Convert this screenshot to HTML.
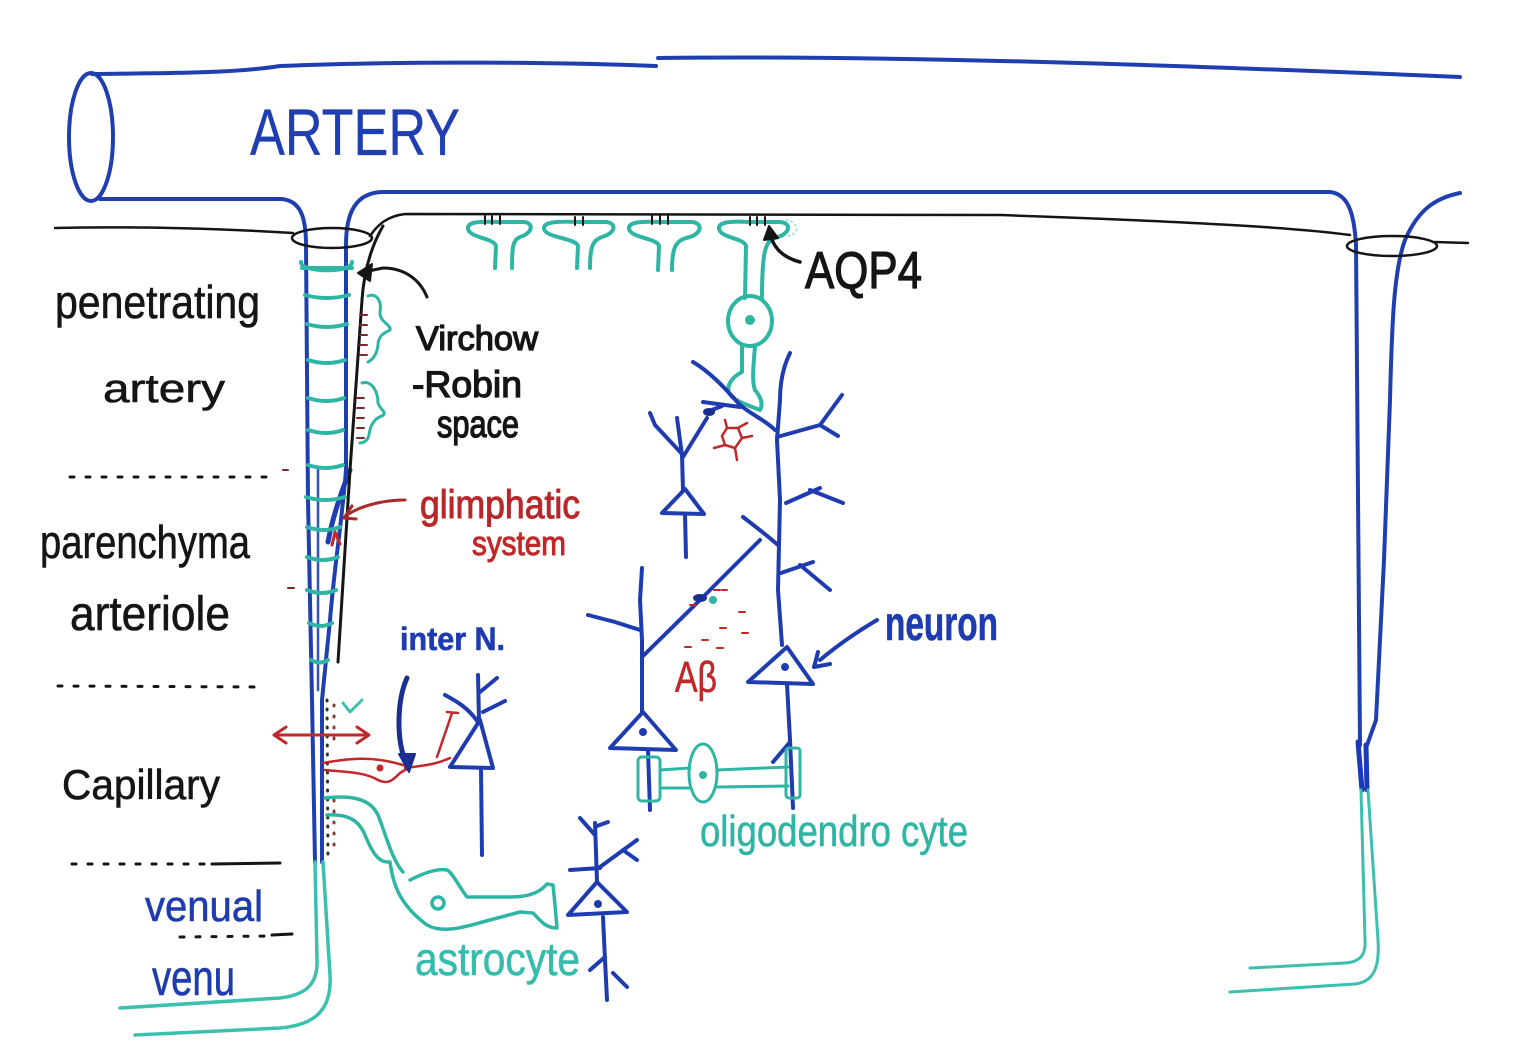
<!DOCTYPE html>
<html><head><meta charset="utf-8">
<style>
html,body{margin:0;padding:0;background:#fff}
svg{display:block}
text{font-family:"Liberation Sans",sans-serif}
</style></head>
<body>
<svg width="1538" height="1063" viewBox="0 0 1538 1063" xmlns="http://www.w3.org/2000/svg">
<rect width="1538" height="1063" fill="#fff"/>
<g fill="none" stroke-linecap="round" stroke-linejoin="round">

<!-- ARTERY tube -->
<g stroke="#1f3fb0" stroke-width="4">
<ellipse cx="91" cy="137" rx="22" ry="64"/>
<path d="M92,74 C150,73 230,74 280,66 C400,61 560,62 656,66"/>
<path d="M658,58 C900,55 1200,66 1460,77"/>
<path d="M100,199 L282,199 C300,201 306,216 306,245 L308,500 L312,700 L315,862"/>
<path d="M346,245 C346,212 356,193 382,192 L1330,192 C1347,194 1354,210 1356,245 L1360,745"/>
<path d="M1460,193 C1435,198 1418,210 1405,240 C1394,270 1392,320 1390,400 L1384,560 L1376,720 L1366,748"/>
<path d="M346,245 L346,470 C342,520 334,570 330,620 L322,700 L322,862"/>
<path d="M350,470 C342,490 333,515 328,542" stroke-width="5"/>
<path d="M318,470 L318,690" stroke="#2a55c8" stroke-width="2.5"/>
</g>
<path d="M1358,742 L1362,790 M1366,745 L1367,790" stroke="#1a3ab8" stroke-width="5"/>

<!-- right venule teal -->
<g stroke="#3cbfae" stroke-width="3">
<path d="M1361,790 L1365,940 C1366,955 1360,962 1345,963 L1250,968"/>
<path d="M1368,790 L1378,940 C1380,970 1372,982 1355,984 L1230,992"/>
</g>
<!-- left venule teal -->
<g stroke="#3cc0ae" stroke-width="3.5">
<path d="M315,862 L317,960 C318,985 305,995 280,998 L120,1008"/>
<path d="M323,862 L330,975 C332,1010 315,1025 280,1028 L135,1035"/>
</g>

<!-- pia (black) -->
<g stroke="#151515" stroke-width="2.5">
<path d="M55,228 C140,226 230,229 293,233"/>
<ellipse cx="332" cy="238" rx="40" ry="10"/>
<path d="M370,236 C378,224 388,216 405,214 L1000,215 C1200,222 1300,228 1350,235"/>
<ellipse cx="1392" cy="246" rx="45" ry="10"/>
<path d="M1435,242 L1468,243"/>
<path d="M383,226 C372,245 364,270 362,300 L350,470 L338,662" stroke-width="3"/>
</g>

<!-- teal rings on penetrating artery -->
<g stroke="#2fb5a3" stroke-width="4">
<path d="M301,262 C300,272 352,274 352,262"/>
<path d="M302,268 L352,268"/>
<path d="M305,295 Q327,301 349,295"/>
<path d="M307,324 Q327,330 347,324"/>
<path d="M308,360 Q327,366 345,360"/>
<path d="M308,398 Q327,404 344,398"/>
<path d="M308,430 Q327,436 343,430"/>
<path d="M308,465 Q326,471 343,465"/>
<path d="M306,497 Q325,503 345,497"/>
<path d="M307,527 Q324,533 340,527"/>
<path d="M307,557 Q323,563 338,557"/>
<path d="M307,590 Q322,596 336,590"/>
<path d="M309,623 Q321,629 332,623"/>
<path d="M311,660 Q320,665 328,660"/>
</g>

<!-- Virchow-Robin squiggles -->
<g stroke="#2fb5a3" stroke-width="3">
<path d="M368,296 C376,293 382,300 380,312 C379,322 392,325 390,330 C384,333 378,336 378,345 C377,355 372,360 368,362"/>
<path d="M362,383 C372,380 378,392 378,403 C380,410 388,412 382,416 C375,418 370,425 369,435 C368,440 364,443 360,443"/>
</g>
<g stroke="#7a2a2a" stroke-width="2">
<path d="M360,315 h7 M360,325 h7 M360,335 h7 M360,345 h7 M360,355 h7 M357,398 h7 M357,408 h7 M357,418 h7 M357,428 h7 M357,438 h7"/>
</g>

<!-- Virchow arrow -->
<path d="M427,297 C420,280 405,268 383,268 L364,272" stroke="#151515" stroke-width="3"/>
<path d="M372,264 L358,273 L370,281 Z" fill="#151515" stroke="#151515" stroke-width="2"/>

<!-- glimphatic arrow -->
<path d="M405,500 C385,500 362,505 347,515" stroke="#a82a2a" stroke-width="3"/>
<path d="M344,518 L352,506 M344,518 L356,519" stroke="#a82a2a" stroke-width="3"/>
<path d="M332,545 L335,532 L340,544" stroke="#c0282a" stroke-width="3"/>

<!-- capillary dots -->
<g stroke="#333" stroke-width="3" stroke-dasharray="1 8">
<path d="M327,700 L328,860"/>
</g>
<g stroke="#8a3a3a" stroke-width="3" stroke-dasharray="1 10">
<path d="M334,705 L334,745 M334,800 L334,855"/>
</g>
<path d="M343,703 L350,712 L362,700" stroke="#3cbfae" stroke-width="3"/>
<path d="M288,588 h6 M283,470 h5" stroke="#7a2a2a" stroke-width="2"/>

<!-- red double arrow -->
<path d="M275,735 L368,735 M286,727 L274,735 L286,743 M357,727 L369,735 L357,743" stroke="#c0282a" stroke-width="3"/>

<!-- interneuron (red) -->
<g stroke="#c0282a" stroke-width="2.5">
<path d="M323,763 C340,760 360,757 380,760 C395,762 402,765 410,767"/>
<path d="M325,770 C345,772 365,772 378,780 C388,785 393,780 400,773 C405,770 408,768 410,768"/>
<path d="M405,768 C420,766 435,765 450,758"/>
<path d="M437,757 L452,713 M447,712 L458,713"/>
</g>
<circle cx="380" cy="768" r="3.5" fill="#c0282a"/>
<circle cx="408" cy="767" r="3.5" fill="#c0282a"/>

<!-- inter N. arrow -->
<path d="M407,678 C397,700 396,740 406,762" stroke="#1a2f90" stroke-width="5"/>
<path d="M399,754 L415,754 L409,772 Z" fill="#1a2f90" stroke="#1a2f90" stroke-width="2"/>

<!-- inter neuron (blue) -->
<g stroke="#1e3cb0" stroke-width="4">
<path d="M480,720 L450,767 L493,768 Z"/>
<path d="M478,675 L479,720 M481,768 L482,855"/>
<path d="M480,692 L497,678 M483,712 L505,701 M445,695 C458,702 468,708 478,722"/>
</g>

<!-- upper astrocyte endfeet -->
<g stroke="#2fb5a3" stroke-width="4">
<path d="M495,268 L496,246 C494,238 470,238 468,229 C467,222 478,221 500,222 L524,222 C534,223 533,233 520,237 C513,240 512,246 512,268"/>
<path d="M577,268 L578,246 C576,238 546,238 544,229 C543,222 556,221 578,222 L606,222 C617,223 616,233 602,237 C593,240 590,246 590,268"/>
<path d="M658,270 L659,246 C657,238 631,238 629,229 C628,222 640,221 662,222 L692,222 C703,223 702,233 690,237 C676,240 672,246 672,270"/>
<path d="M745,298 L746,246 C744,238 721,238 719,229 C718,222 730,221 748,222 L780,222 C792,223 790,233 778,237 C766,240 762,246 762,298"/>
<ellipse cx="750" cy="321" rx="22" ry="25"/>
<path d="M742,346 L742,372 C734,376 726,384 729,393 C733,401 748,405 760,410 C764,403 760,396 755,390 C752,382 753,370 755,346"/>
</g>
<circle cx="750" cy="320" r="5" fill="#2fb5a3"/>
<path d="M786,220 C800,222 800,236 786,236" stroke="#9fdcd4" stroke-width="1.5" stroke-dasharray="2 3"/>
<g stroke="#151515" stroke-width="2">
<path d="M485,216 v8 M492,216 v8 M500,216 v8 M575,217 v8 M583,217 v8 M652,216 v8 M660,216 v8 M668,216 v8 M750,217 v8 M757,217 v8 M765,217 v8"/>
</g>

<!-- AQP4 arrow -->
<path d="M800,262 C785,258 775,250 771,237" stroke="#151515" stroke-width="3.5"/>
<path d="M764,240 L769,226 L778,238 Z" fill="#151515" stroke="#151515" stroke-width="2"/>

<!-- big neuron -->
<g stroke="#1e3cb0" stroke-width="4">
<path d="M790,353 C784,365 780,380 780,400 L777,440 L780,500 L778,590 L782,645"/>
<path d="M787,647 L748,682 L813,684 Z"/>
<path d="M787,684 L790,740 L793,808 M790,742 L773,762"/>
<path d="M777,437 L820,425 L842,395 M820,425 L838,436"/>
<path d="M786,503 L820,488 M810,490 L843,503"/>
<path d="M743,517 C760,530 770,538 778,545"/>
<path d="M642,657 L700,600 L760,540"/>
<path d="M781,573 L813,562 M800,565 L830,590"/>
<path d="M693,362 C710,372 725,388 740,405 C752,415 765,420 775,430"/>
<path d="M703,402 L740,407"/>
</g>
<circle cx="785" cy="667" r="4" fill="#1e3cb0"/>

<!-- left upper small neuron -->
<g stroke="#1e3cb0" stroke-width="4">
<path d="M677,418 L682,455 L683,490"/>
<path d="M685,489 L662,513 L704,514 Z"/>
<path d="M685,514 L686,557"/>
<path d="M650,413 L655,425 L683,455"/>
<path d="M683,457 L707,418 M712,410 L722,406"/>
</g>
<ellipse cx="709" cy="412" rx="6" ry="4" fill="#1a2f90"/>

<!-- red star -->
<g stroke="#c0282a" stroke-width="2.5">
<path d="M727,428 L738,428 L742,438 L735,448 L725,445 L722,436 Z"/>
<path d="M738,428 L747,423 M742,438 L752,436 M725,445 L714,448 M735,448 L737,460 M727,428 L725,420"/>
</g>

<!-- lower left neuron -->
<g stroke="#1e3cb0" stroke-width="4">
<path d="M642,568 L640,600 L642,640 L642,712"/>
<path d="M588,615 L615,622 L640,630"/>
<path d="M643,712 L610,748 L676,750 Z"/>
<path d="M648,750 L650,810"/>
</g>
<circle cx="643" cy="732" r="4" fill="#1e3cb0"/>
<ellipse cx="700" cy="598" rx="7" ry="4" fill="#1a2f90"/>
<circle cx="713" cy="600" r="4" fill="#2fb5a3"/>

<!-- red dashes (Abeta) -->
<g stroke="#c0282a" stroke-width="2">
<path d="M714,590 h6 M690,605 h6 M739,612 h6 M720,628 h6 M742,633 h6 M702,640 h6 M685,647 h6 M717,648 h6 M722,590 h5"/>
</g>

<!-- neuron arrow -->
<path d="M877,620 C860,630 838,645 820,660" stroke="#1e3cb0" stroke-width="4"/>
<path d="M814,667 L818,652 M814,667 L830,664" stroke="#1e3cb0" stroke-width="4"/>

<!-- oligodendrocyte -->
<g stroke="#2fb5a3" stroke-width="3">
<rect x="638" y="757" width="22" height="44" rx="4"/>
<path d="M660,770 L690,768 M660,788 L690,788"/>
<ellipse cx="703" cy="773" rx="14" ry="29"/>
<path d="M717,770 L788,767 M717,787 L788,786"/>
<rect x="786" y="748" width="14" height="50" rx="3"/>
</g>
<circle cx="703" cy="775" r="4" fill="#2fb5a3"/>

<!-- lower astrocyte -->
<g stroke="#2fb5a3" stroke-width="3.5">
<path d="M325,798 C350,795 370,798 378,815 C386,835 392,860 403,872"/>
<path d="M327,815 C345,814 358,818 365,835 C372,852 378,862 388,862"/>
<path d="M390,862 C393,885 400,905 427,925 C445,935 470,925 490,920 L520,912 L533,913 C540,920 545,928 557,928 L555,905 L553,885 L547,884 C540,892 530,897 510,897 L467,897 C458,885 452,872 447,870 C435,868 420,875 410,880"/>
<circle cx="438" cy="903" r="6"/>
</g>

<!-- bottom center neuron -->
<g stroke="#1e3cb0" stroke-width="4">
<path d="M595,823 L597,882"/>
<path d="M597,882 L568,915 L627,912 Z"/>
<path d="M603,917 L605,960 L607,1000"/>
<path d="M580,818 L595,835 M597,826 L608,822 M570,870 L600,868 M600,867 L637,840 M623,850 L637,860"/>
<path d="M590,970 L605,957 M613,973 L627,987"/>
</g>
<circle cx="598" cy="904" r="4" fill="#1e3cb0"/>

<!-- dotted separators -->
<g stroke="#151515" stroke-width="3" stroke-dasharray="4 12">
<path d="M70,477 L268,477"/>
<path d="M58,686 L265,687"/>
<path d="M72,864 L210,864"/>
<path d="M180,937 L270,936"/>
</g>
<path d="M212,864 L280,863 M272,935 L292,934" stroke="#151515" stroke-width="3"/>
</g>

<!-- TEXT -->
<g stroke-width="0.6">
<text x="250" y="155" font-size="66" fill="#1f3fb0" stroke="#1f3fb0" stroke-width="0.3" textLength="210" lengthAdjust="spacingAndGlyphs">ARTERY</text>
<text x="55" y="318" font-size="46" fill="#151515" stroke="#151515" textLength="205" lengthAdjust="spacingAndGlyphs">penetrating</text>
<text x="103" y="402" font-size="40" fill="#151515" stroke="#151515" textLength="122" lengthAdjust="spacingAndGlyphs">artery</text>
<text x="40" y="558" font-size="46" fill="#151515" stroke="#151515" textLength="210" lengthAdjust="spacingAndGlyphs">parenchyma</text>
<text x="70" y="630" font-size="48" fill="#151515" stroke="#151515" textLength="160" lengthAdjust="spacingAndGlyphs">arteriole</text>
<text x="62" y="799" font-size="42" fill="#151515" stroke="#151515" textLength="158" lengthAdjust="spacingAndGlyphs">Capillary</text>
<text x="145" y="921" font-size="44" fill="#1e3cb0" stroke="#1e3cb0" textLength="118" lengthAdjust="spacingAndGlyphs">venual</text>
<text x="152" y="995" font-size="50" fill="#1e3cb0" stroke="#1e3cb0" textLength="83" lengthAdjust="spacingAndGlyphs">venu</text>
<text x="416" y="350" font-size="34" fill="#151515" stroke="#151515" stroke-width="1.3" textLength="122" lengthAdjust="spacingAndGlyphs">Virchow</text>
<text x="412" y="397" font-size="37" fill="#151515" stroke="#151515" stroke-width="1.3" textLength="110" lengthAdjust="spacingAndGlyphs">-Robin</text>
<text x="437" y="437" font-size="38" fill="#151515" stroke="#151515" stroke-width="1.3" textLength="82" lengthAdjust="spacingAndGlyphs">space</text>
<text x="420" y="518" font-size="40" fill="#b8282a" stroke="#b8282a" stroke-width="1" textLength="160" lengthAdjust="spacingAndGlyphs">glimphatic</text>
<text x="472" y="555" font-size="34" fill="#c0282a" stroke="#c0282a" stroke-width="1" textLength="94" lengthAdjust="spacingAndGlyphs">system</text>
<text x="400" y="650" font-size="32" font-weight="bold" fill="#1e3cb0" stroke="#1e3cb0" textLength="105" lengthAdjust="spacingAndGlyphs">inter N.</text>
<text x="805" y="288" font-size="52" fill="#151515" stroke="#151515" stroke-width="1.2" textLength="117" lengthAdjust="spacingAndGlyphs">AQP4</text>
<text x="675" y="692" font-size="44" fill="#c0282a" stroke="#c0282a" textLength="42" lengthAdjust="spacingAndGlyphs">Aβ</text>
<text x="885" y="640" font-size="48" font-weight="bold" fill="#1e3cb0" stroke="#1e3cb0" textLength="113" lengthAdjust="spacingAndGlyphs">neuron</text>
<text x="700" y="846" font-size="44" fill="#2fb5a3" stroke="#2fb5a3" textLength="268" lengthAdjust="spacingAndGlyphs">oligodendro cyte</text>
<text x="415" y="975" font-size="46" fill="#35bcac" stroke="#35bcac" textLength="165" lengthAdjust="spacingAndGlyphs">astrocyte</text>
</g>
</svg>
</body></html>
